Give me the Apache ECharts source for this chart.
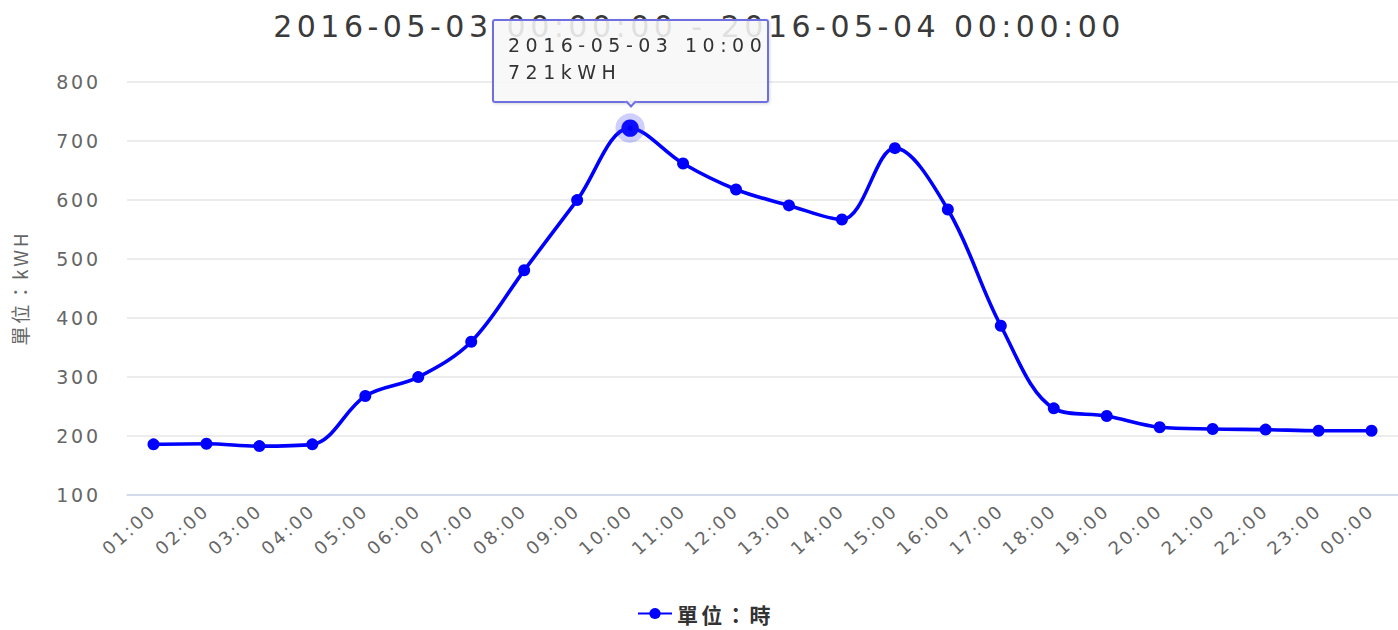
<!DOCTYPE html>
<html>
<head>
<meta charset="utf-8">
<title>用電量</title>
<script src="https://cdn.jsdelivr.net/npm/echarts@6.0.0/dist/echarts.min.js"></script>
<style>
  html, body { margin: 0; padding: 0; background: #fff; }
  #chart { width: 1398px; height: 630px; }
  /* the original chart text is set wide */
  #chart svg text { letter-spacing: 0.15em; }
</style>
</head>
<body>
<div id="chart"></div>
<script>
// 每小時用電量 (kWH)
const titleText = '2016-05-03 00:00:00 - 2016-05-04 00:00:00';
const day = '2016-05-03';
const hours = ['01:00', '02:00', '03:00', '04:00', '05:00', '06:00', '07:00', '08:00',
  '09:00', '10:00', '11:00', '12:00', '13:00', '14:00', '15:00', '16:00',
  '17:00', '18:00', '19:00', '20:00', '21:00', '22:00', '23:00', '00:00'];
const energy = [185, 186, 182, 185, 267, 299, 359, 480, 599, 721, 661, 617,
  590, 566, 687, 583, 386, 246, 233, 214, 211, 210, 208, 208];
const yTicks = [100, 800, 100]; // min, max, interval
const seriesName = '單位：時';
const unitName = '單位：kWH';
const tipIndex = 9;

function drawChart() {
  const dom = document.getElementById('chart');
  const chart = echarts.init(dom, null, { renderer: 'svg' });

  const option = {
    animation: false,
    color: ['#0000ff'],
    title: {
      text: titleText,
      left: 'center',
      top: 6,
      textStyle: {
        fontFamily: 'DejaVu Sans',
        fontSize: 30,
        fontWeight: 'normal',
        color: '#3a3a3a'
      }
    },
    tooltip: {
      trigger: 'item',
      position: 'top',
      alwaysShowContent: true,
      transitionDuration: 0,
      backgroundColor: 'rgba(247,247,247,0.88)',
      borderColor: '#6f6fe0',
      borderWidth: 2,
      padding: [11, 0, 15, 14],
      textStyle: {
        fontFamily: 'DejaVu Sans',
        fontSize: 19,
        color: '#333',
        lineHeight: 27
      },
      extraCssText: 'letter-spacing: 5.5px; margin-top: -8px; border-radius: 3px; box-shadow: 1px 1px 3px rgba(0,0,0,0.15);',
      formatter: (p) => day + ' ' + p.name + '<br/>' + p.value + 'kWH'
    },
    legend: {
      bottom: 1,
      left: 'center',
      itemWidth: 34,
      itemHeight: 14,
      textStyle: {
        fontFamily: 'Noto Sans CJK TC',
        fontSize: 21,
        fontWeight: 'bold',
        color: '#333'
      },
      data: [seriesName]
    },
    grid: {
      left: 127,
      right: -4,
      top: 81.5,
      height: 413
    },
    xAxis: {
      type: 'category',
      data: hours,
      boundaryGap: true,
      axisLine: { lineStyle: { color: '#ccd6eb', width: 1.5 } },
      axisTick: { length: 10, lineStyle: { color: '#ccd6eb', width: 1.5 } },
      axisLabel: {
        rotate: 42,
        margin: 13,
        fontFamily: 'DejaVu Sans',
        fontSize: 18,
        color: '#666'
      }
    },
    yAxis: {
      type: 'value',
      min: yTicks[0],
      max: yTicks[1],
      interval: yTicks[2],
      name: unitName,
      nameLocation: 'middle',
      nameRotate: 90,
      nameGap: 98,
      nameTextStyle: {
        fontFamily: 'Noto Sans CJK TC',
        fontSize: 19,
        color: '#666'
      },
      axisLine: { show: false },
      axisTick: { show: false },
      axisLabel: {
        margin: 26,
        fontFamily: 'DejaVu Sans',
        fontSize: 19,
        color: '#666'
      },
      splitLine: { lineStyle: { color: '#e6e6e6', width: 1.5 } }
    },
    series: [{
      name: seriesName,
      type: 'line',
      data: energy,
      smooth: 0.35,
      symbol: 'circle',
      symbolSize: 12,
      lineStyle: { width: 3.6, color: '#0000ff' },
      itemStyle: { color: '#0000ff' },
      emphasis: {
        scale: 1.45,
        lineStyle: { width: 3.6 },
        itemStyle: {
          borderColor: 'rgba(60,60,255,0.25)',
          borderWidth: 12
        }
      }
    }]
  };

  chart.setOption(option);

  chart.dispatchAction({ type: 'highlight', seriesIndex: 0, dataIndex: tipIndex });
  chart.dispatchAction({ type: 'showTip', seriesIndex: 0, dataIndex: tipIndex });

  window.addEventListener('resize', () => chart.resize());
}

document.addEventListener('DOMContentLoaded', drawChart);
</script>
</body>
</html>
